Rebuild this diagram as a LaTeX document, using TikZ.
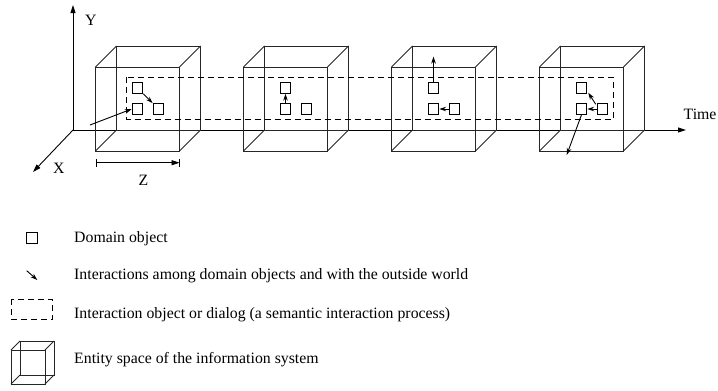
\documentclass[tikz,border=0pt]{standalone}
\usepackage{fontspec}
\setmainfont{Liberation Serif}
\usetikzlibrary{arrows.meta}

\tikzset{
  wire/.style={line width=1pt, draw=black!85},
  obj/.style={draw, line width=1pt, minimum size=10.5pt, inner sep=0pt},
  act/.style={line width=0.9pt, -{Stealth[length=7pt,width=4.6pt]}},
  axis/.style={line width=0.9pt, -{Triangle[length=8pt,width=5pt]}},
  dlg/.style={line width=0.9pt, dash pattern=on 6pt off 4pt},
  lbl/.style={font=\fontsize{15.8}{18}\selectfont, inner sep=0pt, anchor=base west},
  pics/entity/.style={code={
    \draw[wire] (0,0) rectangle (84,84);
    \draw[wire] (21,-21) rectangle (105,63);
    \draw[wire] (0,0) -- (21,-21) (84,0) -- (105,-21)
                (0,84) -- (21,63) (84,84) -- (105,63);
  }}
}

\begin{document}
\begin{tikzpicture}[x=1pt,y=-1pt]
\useasboundingbox (0,0) rectangle (718,391);

% axes
\coordinate (O) at (73,130);
\draw[axis] (O) -- (73,5);
\draw[axis] (O) -- (33,172);
\draw[axis] (O) -- (686,130);
\node[lbl] at (85,25) {Y};
\node[lbl] at (53,173.5) {X};
\node[lbl] at (683.5,119) {Time};

% width of an entity space
\draw[line width=0.9pt,{Bar[width=8pt]}-{Triangle[length=8pt,width=5pt]}] (95.5,162.7) -- (179.5,162.7);
\draw[line width=0.9pt] (179.5,158.7) -- (179.5,166.7);
\node[lbl] at (138.5,185) {Z};

% entity spaces along the time axis
\foreach \k in {0,1,2,3} {
  \pic at ({95.5+148*\k},67) {entity};
}

% the dialog crossing the entity spaces
\draw[dlg] (126.7,77.3) rectangle (613.3,119.3);

% domain objects in each entity space
\foreach \k/\L in {1/95.5,2/243.5,3/391.5,4/539.5} {
  \node[obj] (a\k) at (\L+42,88) {};
  \node[obj] (b\k) at (\L+42,109) {};
  \node[obj] (c\k) at (\L+63,109) {};
}

% interactions
\coordinate (in1) at (90,125);
\draw[act] (a1.south east) -- (c1.north west);
\draw[act] (in1) -- (b1.west);

\draw[act] (b2.north) -- (a2.south);

\coordinate (out3) at (433.5,56.7);
\draw[act] (a3.north) -- (out3);
\draw[act] (c3.west) -- (b3.east);

\coordinate (out4) at (566.7,155);
\draw[act] ([xshift=-1pt,yshift=-1pt]c4.north west) -- ([xshift=1pt,yshift=1pt]a4.south east);
\draw[act] (c4.west) -- (b4.east);
\draw[act] (b4.south) -- (out4);

% legend
\node[obj] (lobj) at (32.2,238) {};
\node[lbl] at (74,242.3) {Domain object};

\coordinate (la) at (26.7,270.7);
\coordinate (lb) at (37.3,280);
\draw[act] (la) -- (lb);
\node[lbl] at (74,279.5) {Interactions among domain objects and with the outside world};

\draw[dlg] (11,299.3) rectangle (52.7,319.3);
\node[lbl] at (74,318.5) {Interaction object or dialog (a semantic interaction process)};

\draw[wire] (11,350) rectangle (45,384);
\draw[wire] (20,341) rectangle (54,375);
\draw[wire] (11,350) -- (20,341) (45,350) -- (54,341)
            (11,384) -- (20,375) (45,384) -- (54,375);
\node[lbl] at (74,363.3) {Entity space of the information system};
\end{tikzpicture}
\end{document}
